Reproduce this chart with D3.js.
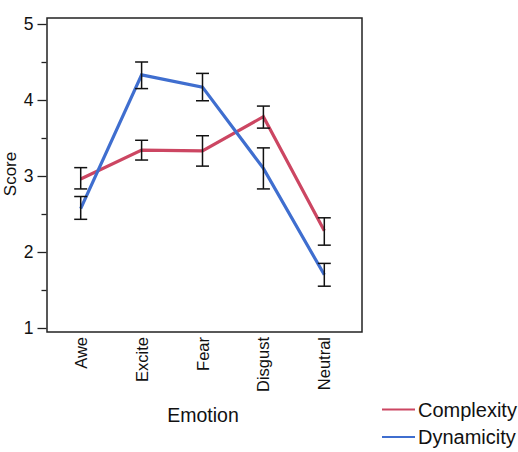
<!DOCTYPE html>
<html><head><meta charset="utf-8">
<script src="https://cdn.jsdelivr.net/npm/d3@7"></script>
<style>body{margin:0;background:#fff}svg{display:block;font-family:"Liberation Sans",Arial,sans-serif}</style>
</head><body><svg id="c" width="518" height="452"></svg>
<script>
const emotions = ["Awe","Excite","Fear","Disgust","Neutral"];
const complexity = [2.96, 3.34, 3.33, 3.78, 2.28];
const complexityLo = [2.83, 3.21, 3.13, 3.63, 2.09];
const complexityHi = [3.11, 3.47, 3.53, 3.92, 2.45];
const dynamicity = [2.57, 4.33, 4.17, 3.10, 1.70];
const dynamicityLo = [2.43, 4.15, 3.99, 2.83, 1.55];
const dynamicityHi = [2.73, 4.50, 4.35, 3.37, 1.85];
const yTicks = [1,2,3,4,5];
const yMinorTicks = [1.5,2.5,3.5,4.5];
const seriesNames = ["Complexity","Dynamicity"];
const seriesColors = ["#cc4662","#3f6ecf"];

const svg = d3.select("#c");
const box = {l:47, r:362, t:18, b:332};
const x = d3.scalePoint().domain(emotions).range([80.7, 324.3]);
const y = d3.scaleLinear().domain([1,5]).range([328, 24]);

// box
svg.append("rect").attr("x",box.l).attr("y",box.t).attr("width",box.r-box.l).attr("height",box.b-box.t)
  .attr("fill","none").attr("stroke","#222").attr("stroke-width",1.5);

// y axis
const yAxis = d3.axisLeft(y).tickValues(yTicks).tickSize(9).tickPadding(4).tickFormat(d3.format("d"));
const ga = svg.append("g").attr("transform",`translate(${box.l-0.5},0)`).call(yAxis);
ga.select(".domain").remove();
ga.selectAll(".tick line").attr("stroke","#222").attr("stroke-width",1.3);
ga.selectAll(".tick text").attr("font-size",17.5).attr("fill","#111").attr("font-family","Liberation Sans, Arial, sans-serif");
const gm = svg.append("g").attr("transform",`translate(${box.l-0.5},0)`)
  .call(d3.axisLeft(y).tickValues(yMinorTicks).tickSize(5).tickFormat(""));
gm.select(".domain").remove();
gm.selectAll(".tick line").attr("stroke","#222").attr("stroke-width",1.3);

// x labels
emotions.forEach(e=>{
  svg.append("text").attr("transform",`translate(${x(e)+6},337) rotate(-90)`)
    .attr("text-anchor","end").attr("font-size",16.5).attr("fill","#111").text(e);
});

// axis titles
svg.append("text").attr("transform","translate(16,174) rotate(-90)").attr("text-anchor","middle")
  .attr("font-size",17).attr("fill","#111").text("Score");
svg.append("text").attr("x",203).attr("y",422).attr("text-anchor","middle")
  .attr("font-size",19.5).attr("fill","#111").text("Emotion");

// lines
const series = [
  {vals:complexity, lo:complexityLo, hi:complexityHi},
  {vals:dynamicity, lo:dynamicityLo, hi:dynamicityHi}
];
const line = d3.line().x((d,i)=>x(emotions[i])).y(d=>y(d));
series.forEach((s,k)=>{
  svg.append("path").attr("d",line(s.vals)).attr("fill","none")
    .attr("stroke",seriesColors[k]).attr("stroke-width",3.2).attr("stroke-linejoin","miter");
});
// error bars
series.forEach(s=>{
  emotions.forEach((e,i)=>{
    const cx = x(e);
    const g = svg.append("g").attr("stroke","#111").attr("stroke-width",1.5);
    g.append("line").attr("x1",cx).attr("x2",cx).attr("y1",y(s.lo[i])).attr("y2",y(s.hi[i]));
    g.append("line").attr("x1",cx-6.5).attr("x2",cx+6.5).attr("y1",y(s.lo[i])).attr("y2",y(s.lo[i]));
    g.append("line").attr("x1",cx-6.5).attr("x2",cx+6.5).attr("y1",y(s.hi[i])).attr("y2",y(s.hi[i]));
  });
});

// legend
seriesNames.forEach((n,k)=>{
  const ly = 409.5 + k*27.5;
  svg.append("line").attr("x1",382).attr("x2",415).attr("y1",ly).attr("y2",ly)
    .attr("stroke",seriesColors[k]).attr("stroke-width",1.8);
  svg.append("text").attr("x",418).attr("y",ly+7).attr("font-size",20).attr("fill","#111").text(n);
});
</script></body></html>
